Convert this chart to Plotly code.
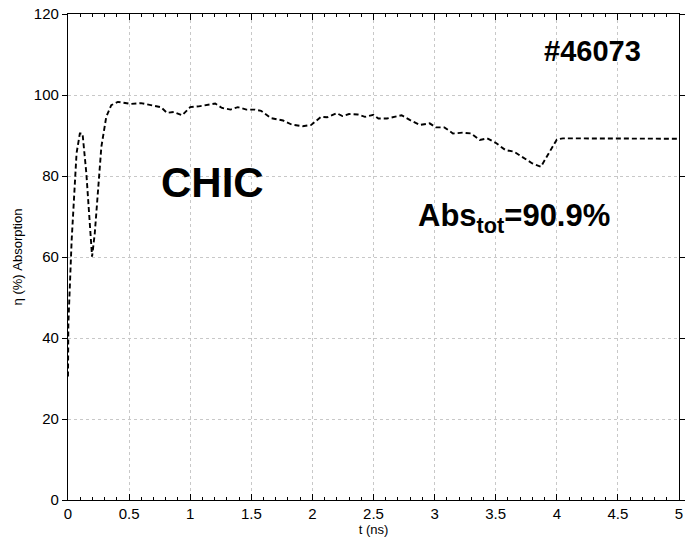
import plotly.graph_objects as go

t_ns = [0.0, 0.003, 0.03, 0.05, 0.07, 0.097, 0.119, 0.15, 0.178, 0.197, 0.219, 0.246,
        0.273, 0.313, 0.354, 0.408, 0.475, 0.516, 0.597, 0.69, 0.76, 0.81, 0.867,
        0.934, 1.0, 1.07, 1.137, 1.205, 1.26, 1.33, 1.39, 1.46, 1.53, 1.58, 1.66,
        1.76, 1.83, 1.92, 1.99, 2.07, 2.12, 2.20, 2.245, 2.30, 2.37, 2.43, 2.50,
        2.54, 2.61, 2.73, 2.80, 2.88, 2.96, 3.01, 3.08, 3.15, 3.23, 3.30, 3.37,
        3.43, 3.50, 3.58, 3.65, 3.72, 3.80, 3.87, 3.95, 4.0, 4.05, 5.0]
absorption = [30.5, 43.6, 64.2, 76.5, 85.6, 90.5, 90.5, 80.7, 68.3, 60.1, 65.8, 76.5,
              87.2, 94.6, 97.5, 98.3, 98.0, 97.8, 98.0, 97.5, 97.0, 95.6, 95.8,
              95.0, 97.0, 97.2, 97.5, 97.9, 96.8, 96.4, 97.0, 96.4, 96.4, 96.1, 94.3,
              93.7, 92.7, 92.3, 92.6, 94.6, 94.5, 95.5, 94.8, 95.3, 95.2, 94.6, 95.1,
              94.2, 94.2, 95.0, 93.8, 92.6, 93.0, 92.0, 92.0, 90.5, 90.7, 90.5, 88.9,
              89.3, 88.2, 86.4, 86.0, 84.6, 83.1, 82.3, 86.4, 89.0, 89.3, 89.2]

x_ticks = [0, 0.5, 1, 1.5, 2, 2.5, 3, 3.5, 4, 4.5, 5]
x_tick_labels = ["0", "0.5", "1", "1.5", "2", "2.5", "3", "3.5", "4", "4.5", "5"]
y_ticks = [0, 20, 40, 60, 80, 100, 120]

fig = go.Figure()
fig.add_trace(go.Scatter(x=t_ns, y=absorption, mode="lines",
                         line=dict(color="black", width=1.9, dash="5px,3px"),
                         showlegend=False))

font = "Liberation Sans, Arial, Helvetica, sans-serif"
fig.update_layout(
    width=687, height=542,
    margin=dict(l=68, r=2, t=14, b=42),
    paper_bgcolor="white", plot_bgcolor="white",
    font=dict(family=font, color="black", size=15),
    xaxis=dict(range=[0, 5], tickvals=x_ticks, ticktext=x_tick_labels,
               showline=True, linecolor="black", linewidth=1.2, mirror="allticks",
               ticks="inside", ticklen=6, tickcolor="black",
               minor=dict(dtick=0.1, ticks="inside", ticklen=3, tickcolor="black", showgrid=False),
               showgrid=True, gridcolor="#c8c8c8", griddash="dot", gridwidth=1,
               zeroline=False,
               title=dict(text="t (ns)", font=dict(size=13), standoff=2)),
    yaxis=dict(range=[0, 120], tickvals=y_ticks,
               showline=True, linecolor="black", linewidth=1.2, mirror="allticks",
               ticks="outside", ticklen=5, tickcolor="black",
               showgrid=True, gridcolor="#c8c8c8", griddash="dot", gridwidth=1,
               zeroline=False,
               title=dict(text="η (%) Absorption", font=dict(size=13), standoff=8)),
)

fig.add_annotation(x=0.745, y=78.5, xref="x", yref="y", text="<b>CHIC</b>", showarrow=False,
                   xanchor="left", yanchor="middle", font=dict(size=42, family=font))
fig.add_annotation(x=4.295, y=110.9, xref="x", yref="y", text="<b>#46073</b>", showarrow=False,
                   xanchor="center", yanchor="middle", font=dict(size=29, family=font))
fig.add_annotation(x=3.647, y=69.6, xref="x", yref="y",
                   text="<b>Abs<sub>tot</sub>=90.9%</b>", showarrow=False,
                   xanchor="center", yanchor="middle", font=dict(size=31, family=font))

fig.write_html("out.html")
